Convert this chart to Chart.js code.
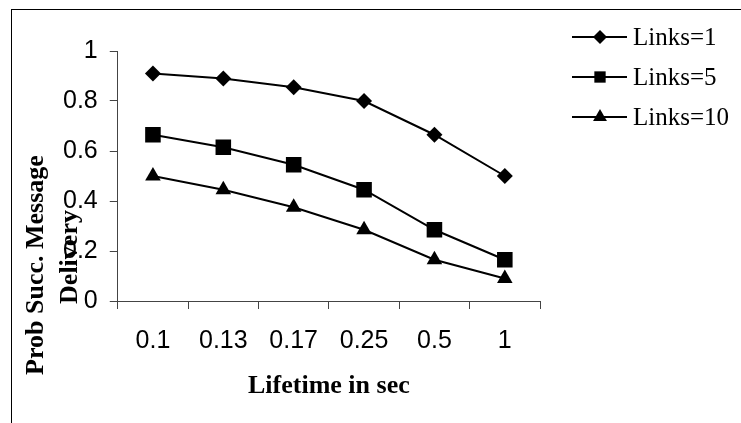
<!DOCTYPE html>
<html>
<head>
<meta charset="utf-8">
<script src="https://cdn.jsdelivr.net/npm/chart.js@4/dist/chart.umd.min.js"></script>
<style>
  html, body { margin: 0; padding: 0; background: #fff; }
  #wrap { position: relative; width: 741px; height: 423px; overflow: hidden; }
  #frame { position: absolute; left: 11px; top: 9px; width: 900px; height: 600px; border: 1px solid #000; box-sizing: border-box; }
  #c { position: absolute; left: 0; top: 0; }
</style>
</head>
<body>
<div id="wrap">
  <div id="frame"></div>
  <canvas id="c" width="741" height="423"></canvas>
</div>
<script>
// ---- data ----
const categories = ["0.1", "0.13", "0.17", "0.25", "0.5", "1"];
const links1 = [0.91, 0.89, 0.855, 0.80, 0.665, 0.50];
const links5 = [0.665, 0.615, 0.545, 0.445, 0.285, 0.165];
const links10 = [0.50, 0.445, 0.375, 0.285, 0.165, 0.09];
const seriesLabels = ["Links=1", "Links=5", "Links=10"];
const yTicks = [0, 0.2, 0.4, 0.6, 0.8, 1];
const xTitle = "Lifetime in sec";
const yTitleLines = ["Prob Succ. Message", "Delivery"];

const styles = ["rectRot", "rect", "triangle"];
const radii = [8, 11, 9];

function drawMarker(ctx, style, x, y, r) {
  ctx.beginPath();
  if (style === "rectRot") {
    ctx.moveTo(x, y - r); ctx.lineTo(x + r, y); ctx.lineTo(x, y + r); ctx.lineTo(x - r, y);
  } else if (style === "rect") {
    const s = r * Math.SQRT1_2;
    ctx.rect(x - s, y - s, 2 * s, 2 * s);
  } else {
    const a = 2 * Math.PI / 3;
    ctx.moveTo(x, y - r);
    ctx.lineTo(x + Math.sin(a) * r, y - Math.cos(a) * r);
    ctx.lineTo(x + Math.sin(2 * a) * r, y - Math.cos(2 * a) * r);
  }
  ctx.closePath();
  ctx.fill();
}

const overlay = {
  id: "overlay",
  afterDraw(chart) {
    const ctx = chart.ctx;
    ctx.save();
    // y-axis title (two lines, rotated)
    ctx.fillStyle = "#000";
    ctx.font = "bold 26px 'Liberation Serif'";
    ctx.textAlign = "center";
    ctx.textBaseline = "alphabetic";
    const pos = [[43, 265], [77, 257]];
    yTitleLines.forEach((t, i) => {
      ctx.save();
      ctx.translate(pos[i][0], pos[i][1]);
      ctx.rotate(-Math.PI / 2);
      ctx.fillText(t, 0, 0);
      ctx.restore();
    });
    // legend
    const ds = chart.data.datasets;
    ctx.font = "25px 'Liberation Serif'";
    ctx.textAlign = "left";
    ctx.textBaseline = "middle";
    ds.forEach((d, i) => {
      const y = 37 + i * 40;
      ctx.strokeStyle = "#000";
      ctx.lineWidth = 2;
      ctx.beginPath();
      ctx.moveTo(572, y); ctx.lineTo(627, y); ctx.stroke();
      ctx.fillStyle = "#000";
      drawMarker(ctx, d.pointStyle, 600, y, [7, 8, 8][i]);
      ctx.fillText(d.label, 633, y + 1);
    });
    ctx.restore();
  }
};

const mk = (i, data) => ({
  label: seriesLabels[i],
  data: data,
  borderColor: "#000",
  backgroundColor: "#000",
  borderWidth: 2,
  pointStyle: styles[i],
  pointRadius: radii[i],
  pointBorderWidth: 0,
  pointBackgroundColor: "#000",
  tension: 0,
  fill: false
});

new Chart(document.getElementById("c"), {
  type: "line",
  data: {
    labels: categories,
    datasets: [mk(0, links1), mk(1, links5), mk(2, links10)]
  },
  options: {
    responsive: false,
    devicePixelRatio: 1,
    animation: false,
    layout: { padding: { left: 51, right: 201, top: 51, bottom: 24 } },
    plugins: { legend: { display: false }, tooltip: { enabled: false } },
    scales: {
      x: {
        offset: true,
        grid: { offset: true, drawOnChartArea: false, drawTicks: true, tickLength: 8, color: "#444", lineWidth: 1 },
        border: { display: true, color: "#444", width: 1 },
        ticks: { color: "#000", font: { family: "'Liberation Sans'", size: 25 }, padding: 17, maxRotation: 0, autoSkip: false },
        title: { display: true, text: xTitle, color: "#000", font: { family: "'Liberation Serif'", size: 26, weight: "bold", lineHeight: 1.0 }, padding: { top: 0, bottom: 0 } }
      },
      y: {
        min: 0, max: 1,
        afterBuildTicks: (s) => { s.ticks = yTicks.map(v => ({ value: v })); },
        grid: { drawOnChartArea: false, drawTicks: true, tickLength: 8, color: "#444", lineWidth: 1 },
        border: { display: true, color: "#444", width: 1 },
        ticks: { color: "#000", font: { family: "'Liberation Sans'", size: 25 }, padding: 12, callback: (v) => String(v) }
      }
    }
  },
  plugins: [overlay]
});
</script>
</body>
</html>
